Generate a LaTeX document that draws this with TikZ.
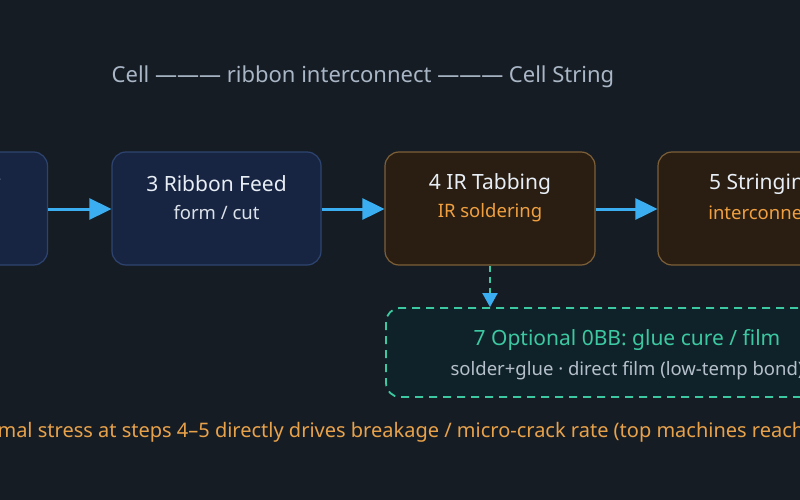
\documentclass[tikz,border=0pt]{standalone}
\usepackage{fontspec}
\setmainfont{Noto Sans}
\usetikzlibrary{arrows.meta}
\definecolor{bg}{RGB}{22,28,36}
\definecolor{navyfill}{RGB}{24,37,66}
\definecolor{navyline}{RGB}{46,68,112}
\definecolor{brownfill}{RGB}{42,30,18}
\definecolor{brownline}{RGB}{125,95,56}
\definecolor{arrowblue}{RGB}{58,174,240}
\definecolor{teal}{RGB}{60,200,160}
\definecolor{tealfill}{RGB}{15,34,41}
\definecolor{titlewhite}{RGB}{232,238,245}
\definecolor{subwhite}{RGB}{220,226,234}
\definecolor{orangetxt}{RGB}{240,160,64}
\definecolor{toptxt}{RGB}{169,182,198}
\definecolor{bottxt}{RGB}{232,162,74}
\definecolor{greysub}{RGB}{182,192,204}
\tikzset{
  navybox/.style={draw=navyline, fill=navyfill, line width=1.2pt, rounded corners=14pt},
  brownbox/.style={draw=brownline, fill=brownfill, line width=1.2pt, rounded corners=14pt},
  optbox/.style={draw=teal, fill=tealfill, line width=1.8pt, dash pattern=on 8pt off 6pt, rounded corners=14pt},
  titletxt/.style={font=\fontsize{21}{24}\selectfont, text=titlewhite},
  subtxt/.style={font=\fontsize{18.5}{21}\selectfont},
  flow/.style={draw=arrowblue, line width=3pt, -{Triangle[length=22pt,width=21pt]}},
}
\begin{document}
\begin{tikzpicture}[x=1pt,y=-1pt]
\useasboundingbox (0,0) rectangle (800,500);
\clip (0,0) rectangle (800,500);
\fill[bg] (0,0) rectangle (800,500);

% top caption
\node[font=\fontsize{22}{24}\selectfont, text=toptxt] (cap) at (363,77) {Cell ——— ribbon interconnect ——— Cell String};

% boxes
\node[navybox, minimum width=209pt, minimum height=113pt] (b2) at (-57,208.5) {};
\node[titletxt, anchor=east] (t2) at (4,185) {2 Cell Supply};
\node[navybox, minimum width=209pt, minimum height=113pt] (b3) at (216.5,208.5) {};
\node[titletxt] (t3) at (216.5,184) {3 Ribbon Feed};
\node[subtxt, text=subwhite] (s3) at (216.5,213) {form / cut};

\node[brownbox, minimum width=210pt, minimum height=113pt] (b4) at (490,208.5) {};
\node[titletxt] (t4) at (490,184) {4 IR Tabbing};
\node[subtxt, text=orangetxt] (s4) at (490,213) {IR soldering};

\node[brownbox, minimum width=210pt, minimum height=113pt] (b5) at (763,208.5) {};
\node[titletxt] (t5) at (763,184) {5 Stringing};
\node[subtxt, text=orangetxt] (s5) at (763,213) {interconnect};

\node[optbox, minimum width=482pt, minimum height=89pt] (b7) at (627,352.5) {};
\node[titletxt, text=teal] (t7) at (627,340) {7 Optional 0BB: glue cure / film};
\node[subtxt, text=greysub] (s7) at (627,371) {solder+glue · direct film (low-temp bond)};

% arrows
\draw[flow] (b2.east |- 0,209) -- (b3.west |- 0,209);
\draw[flow] (b3.east |- 0,209) -- (b4.west |- 0,209);
\draw[flow] (b4.east |- 0,209) -- (b5.west |- 0,209);
\draw[draw=teal, line width=2pt, dash pattern=on 6pt off 5pt, -{Triangle[length=14pt,width=15pt,color=arrowblue,fill=arrowblue]}] (b4.south) -- (b7.north -| b4.south);

% bottom note
\node[font=\fontsize{20}{23}\selectfont, text=bottxt, anchor=west] (note) at (-49,432) {Thermal stress at steps 4–5 directly drives breakage / micro-crack rate (top machines reach};
\end{tikzpicture}
\end{document}
